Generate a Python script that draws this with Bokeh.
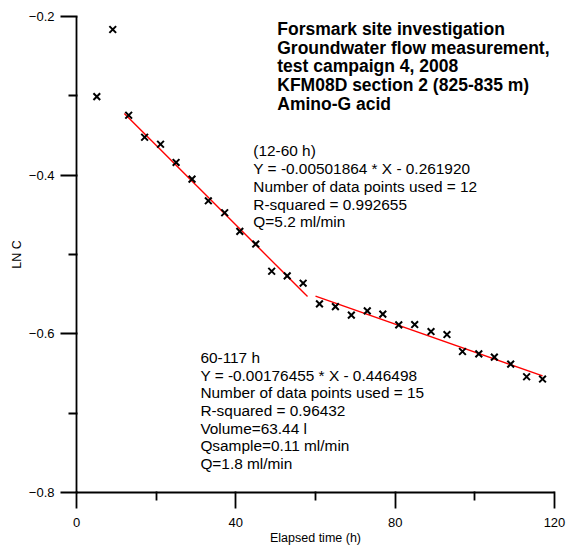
import math
from bokeh.plotting import figure
from bokeh.models import Label, FixedTicker, Range1d
from bokeh.embed import file_html
from bokeh.resources import INLINE

# ---- data ----
elapsed_h = [5.1, 9.1, 13.1, 17.1, 21.1, 25.0, 29.0, 33.1, 37.2, 41.0, 45.0, 49.0, 52.9, 56.9,
             61.0, 65.0, 69.0, 73.0, 76.9, 80.9, 84.9, 89.0, 93.0, 96.9, 101.0, 104.9, 109.0, 113.0, 117.0]
ln_c = [-0.301, -0.2164, -0.3245, -0.3522, -0.361, -0.384, -0.405, -0.4323, -0.4474, -0.4708,
        -0.4868, -0.5211, -0.527, -0.5362, -0.5623, -0.5657, -0.5765, -0.5711, -0.5752, -0.5887,
        -0.5883, -0.5971, -0.6009, -0.6223, -0.6252, -0.6293, -0.6381, -0.6541, -0.657]

# regression lines (slope, intercept) and x-extent
fit1_slope, fit1_icpt = -0.00501864, -0.261920
fit1_x = [12.0, 58.0]
fit2_slope, fit2_icpt = -0.00176455, -0.446498
fit2_x = [60.0, 117.0]

x_ticks = [0, 40, 80, 120]
x_minor = [20, 60, 100]
y_ticks = [-0.8, -0.6, -0.4, -0.2]
y_minor = [-0.7, -0.5, -0.3]

title_lines = ["Forsmark site investigation",
               "Groundwater flow measurement,",
               "test campaign 4, 2008",
               "KFM08D section 2 (825-835 m)",
               "Amino-G acid"]
fit1_lines = ["(12-60 h)",
              "Y = -0.00501864 * X - 0.261920",
              "Number of data points used = 12",
              "R-squared = 0.992655",
              "Q=5.2 ml/min"]
fit2_lines = ["60-117 h",
              "Y = -0.00176455 * X - 0.446498",
              "Number of data points used = 15",
              "R-squared = 0.96432",
              "Volume=63.44 l",
              "Qsample=0.11 ml/min",
              "Q=1.8 ml/min"]

FONT = "Liberation Sans"

p = figure(width=571, height=547, output_backend="svg", toolbar_location=None,
           x_range=Range1d(0, 120), y_range=Range1d(-0.8, -0.2),
           min_border_left=76, min_border_right=17, min_border_top=16, min_border_bottom=54)
p.outline_line_color = None
p.grid.visible = False
p.background_fill_color = "white"
p.border_fill_color = "white"

for ax in (p.xaxis[0], p.yaxis[0]):
    ax.axis_line_width = 1.8
    ax.axis_line_color = "black"
    ax.major_tick_line_color = "black"
    ax.minor_tick_line_color = "black"
    ax.major_tick_line_width = 1.8
    ax.minor_tick_line_width = 1.8
    ax.major_tick_in = 1
    ax.minor_tick_in = 1
    ax.major_tick_out = 16
    ax.minor_tick_out = 8
    ax.major_label_text_font = FONT
    ax.major_label_text_font_size = "13px"
    ax.major_label_text_color = "black"
    ax.axis_label_text_font = FONT
    ax.axis_label_text_font_size = "12.5px"
    ax.axis_label_text_font_style = "normal"
    ax.axis_label_text_color = "black"

p.xaxis[0].ticker = FixedTicker(ticks=x_ticks, minor_ticks=x_minor)
p.yaxis[0].ticker = FixedTicker(ticks=y_ticks, minor_ticks=y_minor)
p.xaxis[0].axis_label = "Elapsed time (h)"
p.yaxis[0].axis_label = "LN C"
p.xaxis[0].major_label_standoff = 9
p.xaxis[0].axis_label_standoff = 1
p.yaxis[0].major_label_standoff = 6
p.yaxis[0].axis_label_standoff = 2

# fitted lines
p.line(fit1_x, [fit1_slope * x + fit1_icpt for x in fit1_x], line_color="#ff0000", line_width=1.4)
p.line(fit2_x, [fit2_slope * x + fit2_icpt for x in fit2_x], line_color="#ff0000", line_width=1.4)

# data points
p.scatter(elapsed_h, ln_c, marker="x", size=9.5, line_width=2, line_color="black")

# text blocks
def block(lines, x, y, step, size, style="normal"):
    for i, t in enumerate(lines):
        p.add_layout(Label(x=x, y=y, y_offset=-i * step, text=t, text_font=FONT,
                           text_font_size=size, text_font_style=style, text_color="black",
                           text_baseline="alphabetic", text_align="left"))

block(title_lines, 50.4, -0.2155, 18.8, "17.5px", "bold")
block(fit1_lines, 44.4, -0.3693, 17.75, "15.4px")
block(fit2_lines, 31.1, -0.6296, 17.7, "15.4px")

# axis title of the neighbouring panel, at the right edge (as in the original);
# screen units are measured from the frame's lower-left corner
p.add_layout(Label(x=487, y=239, x_units="screen", y_units="screen", text="LN C",
                   angle=math.pi / 2, text_font=FONT, text_font_size="12px",
                   text_align="center", text_baseline="middle", text_color="black"))

open("out.html", "w").write(file_html(p, INLINE))
